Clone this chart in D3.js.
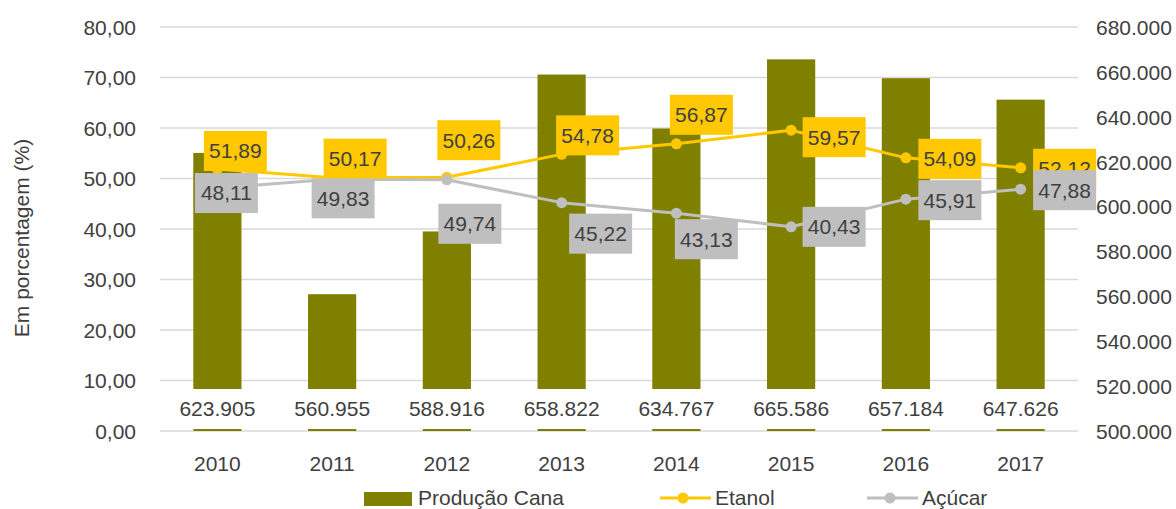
<!DOCTYPE html>
<html>
<head>
<meta charset="utf-8">
<script src="https://cdn.jsdelivr.net/npm/d3@7"></script>
<style>
  html, body { margin: 0; padding: 0; background: #fff; }
  svg { display: block; font-family: "Liberation Sans", Arial, sans-serif; }
</style>
</head>
<body>
<svg id="chart" width="1176" height="509"></svg>
<script>
// Sugarcane production and ethanol / sugar mix by year
const years = ["2010", "2011", "2012", "2013", "2014", "2015", "2016", "2017"];
const producaoCana = [623905, 560955, 588916, 658822, 634767, 665586, 657184, 647626];
const etanol = [51.89, 50.17, 50.26, 54.78, 56.87, 59.57, 54.09, 52.12];
const acucar = [48.11, 49.83, 49.74, 45.22, 43.13, 40.43, 45.91, 47.88];
const leftTicks = [0, 10, 20, 30, 40, 50, 60, 70, 80];
const rightTicks = [500000, 520000, 540000, 560000, 580000, 600000, 620000, 640000, 660000, 680000];

// Label placement (offset of the label centre from its point)
const etanolLabelOffset = [[18, -18], [23, -19], [22, -37], [26, -19], [25, -29], [43, 7], [44, 1], [44, 1]];
const acucarLabelOffset = [[9, 5], [11, 19], [23, 44], [39, 31], [30, 26], [43, 0], [44, 1], [44, 1]];

const colors = { cana: "#808000", etanol: "#FFC800", acucar: "#BFBFBF", text: "#404040", grid: "#D9D9D9" };

const svg = d3.select("#chart");
const plot = { left: 160, right: 1078, top: 27, bottom: 431 };
const fontSize = 21;

const x = d3.scaleBand().domain(years).range([plot.left, plot.right]).padding(0);
const yL = d3.scaleLinear().domain([0, 80]).range([plot.bottom, plot.top]);
const yR = d3.scaleLinear().domain([500000, 680000]).range([plot.bottom, plot.top]);
const barW = x.bandwidth() * 0.42;
const cx = d => x(d) + x.bandwidth() / 2;

const fmtL = v => d3.format(".2f")(v).replace(".", ",");
const fmtR = d3.formatLocale({ decimal: ",", thousands: ".", grouping: [3], currency: ["", ""] }).format(",d");

// Gridlines
svg.append("g").selectAll("line").data(leftTicks).join("line")
  .attr("x1", plot.left).attr("x2", plot.right)
  .attr("y1", d => yL(d)).attr("y2", d => yL(d))
  .attr("stroke", colors.grid).attr("stroke-width", 1.3);

// Left axis
const axL = svg.append("g").attr("transform", `translate(${plot.left - 24},0)`)
  .call(d3.axisLeft(yL).tickValues(leftTicks).tickFormat(fmtL).tickSize(0).tickPadding(0));
axL.select(".domain").remove();
axL.selectAll("text").attr("fill", colors.text).style("font-size", fontSize + "px").attr("dy", "0.35em");

// Right axis
const axR = svg.append("g").attr("transform", `translate(${plot.right + 18},0)`)
  .call(d3.axisRight(yR).tickValues(rightTicks).tickFormat(fmtR).tickSize(0).tickPadding(0));
axR.select(".domain").remove();
axR.selectAll("text").attr("fill", colors.text).style("font-size", fontSize + "px").attr("dy", "0.35em");

// Category axis
const axX = svg.append("g").attr("transform", `translate(0,${plot.bottom})`)
  .call(d3.axisBottom(x).tickSize(0).tickPadding(0));
axX.select(".domain").remove();
axX.selectAll("text").attr("fill", colors.text).style("font-size", fontSize + "px").attr("dy", "0").attr("y", 40);

// Y axis title
svg.append("text")
  .attr("transform", `translate(29,238) rotate(-90)`)
  .attr("text-anchor", "middle")
  .attr("fill", colors.text).style("font-size", fontSize + "px")
  .text("Em porcentagem (%)");

// Bars (right axis)
svg.append("g").selectAll("rect").data(years).join("rect")
  .attr("x", d => cx(d) - barW / 2)
  .attr("width", barW)
  .attr("y", (d, i) => yR(producaoCana[i]))
  .attr("height", (d, i) => yR(500000) - yR(producaoCana[i]))
  .attr("fill", colors.cana);

// Lines with markers (left axis)
function drawSeries(values, color) {
  const line = d3.line().x((d, i) => cx(years[i])).y(d => yL(d));
  svg.append("path").datum(values).attr("d", line)
    .attr("fill", "none").attr("stroke", color).attr("stroke-width", 3).attr("stroke-linejoin", "round");
  svg.append("g").selectAll("circle").data(values).join("circle")
    .attr("cx", (d, i) => cx(years[i])).attr("cy", d => yL(d)).attr("r", 5.5)
    .attr("fill", color);
}
drawSeries(etanol, colors.etanol);
drawSeries(acucar, colors.acucar);

// Data labels with filled boxes
function drawLabels(values, offsets, fill) {
  const g = svg.append("g").selectAll("g").data(values).join("g")
    .attr("transform", (d, i) => `translate(${cx(years[i]) + offsets[i][0]},${yL(d) + offsets[i][1]})`);
  g.append("rect").attr("x", -31.5).attr("y", -20).attr("width", 63).attr("height", 40).attr("fill", fill);
  g.append("text").attr("text-anchor", "middle").attr("dy", "0.35em")
    .attr("fill", colors.text).style("font-size", fontSize + "px")
    .text(d => fmtL(d));
}
drawLabels(etanol, etanolLabelOffset, colors.etanol);
drawLabels(acucar, acucarLabelOffset, colors.acucar);

// Production labels near the base of each bar
const prodLabels = svg.append("g").selectAll("g").data(producaoCana).join("g")
  .attr("transform", (d, i) => `translate(${cx(years[i])},409)`);
prodLabels.append("rect").attr("x", -48).attr("y", -20).attr("width", 96).attr("height", 40).attr("fill", "#fff");
prodLabels.append("text").attr("text-anchor", "middle").attr("dy", "0.35em")
  .attr("fill", colors.text).style("font-size", fontSize + "px")
  .text(d => fmtR(d));

// Legend
const legend = svg.append("g");
legend.append("rect").attr("x", 364).attr("y", 492).attr("width", 48).attr("height", 14).attr("fill", colors.cana);
legend.append("text").attr("x", 418).attr("y", 497.5).attr("dy", "0.35em")
  .attr("fill", colors.text).style("font-size", fontSize + "px").text("Produção Cana");
[[660, colors.etanol, "Etanol"], [867, colors.acucar, "Açúcar"]].forEach(([lx, c, t]) => {
  legend.append("line").attr("x1", lx).attr("x2", lx + 51).attr("y1", 498).attr("y2", 498)
    .attr("stroke", c).attr("stroke-width", 3);
  legend.append("circle").attr("cx", lx + 23).attr("cy", 498).attr("r", 5.5).attr("fill", c);
  legend.append("text").attr("x", lx + 55).attr("y", 497.5).attr("dy", "0.35em")
    .attr("fill", colors.text).style("font-size", fontSize + "px").text(t);
});
</script>
</body>
</html>
